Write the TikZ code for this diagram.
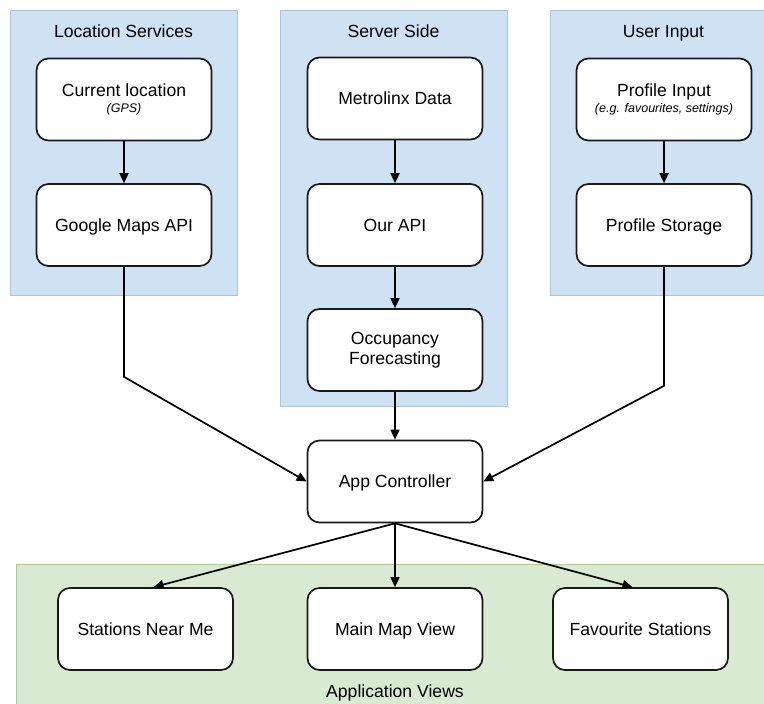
\documentclass[tikz,border=0pt]{standalone}
\usepackage{fontspec}
\setmainfont{Liberation Sans}
\usetikzlibrary{arrows.meta}
\definecolor{panelblue}{HTML}{CFE2F3}
\definecolor{panelblueline}{HTML}{A9C4DE}
\definecolor{panelgreen}{HTML}{D9EAD3}
\definecolor{panelgreenline}{HTML}{A8CC98}
\newcommand{\subnote}[1]{{\fontsize{12.5}{14}\selectfont\itshape #1}}
\tikzset{
  box/.style={draw=black!90, line width=1.7pt, fill=white, rounded corners=12pt,
    minimum width=175pt, minimum height=82pt, align=center, inner sep=2pt},
  oneline/.style={text height=14.6pt, text depth=2pt},
  panel/.style={line width=0.8pt},
  arr/.style={line width=1.7pt, -{Triangle[length=10pt,width=9pt]}},
}
\begin{document}
\begin{tikzpicture}[x=1pt,y=-1pt,font=\fontsize{17.6}{21}\selectfont]
  \useasboundingbox (0,0) rectangle (764,704);
  \clip (0,0) rectangle (764,704);

  % groups
  \draw [panel,draw=panelblueline,fill=panelblue] (10,10) rectangle (237,295);
  \draw [panel,draw=panelblueline,fill=panelblue] (280,10) rectangle (507,406);
  \draw [panel,draw=panelblueline,fill=panelblue] (550,10) rectangle (790,295);
  \draw [panel,draw=panelgreenline,fill=panelgreen] (16,564) rectangle (790,720);
  \node [oneline] (tloc) at (123.5,31) {Location Services};
  \node [oneline] (tsrv) at (393.5,31) {Server Side};
  \node [oneline] (tusr) at (663.5,31) {User Input};
  \node [oneline] (tview) at (395,691) {Application Views};

  % boxes
  \node [box] (loc) at (124,99.5) {Current location\\[-5pt]\subnote{(GPS)}};
  \node [box,oneline] (gmaps) at (124,225) {Google Maps API};
  \node [box,oneline] (metro) at (395,98.5) {Metrolinx Data};
  \node [box,oneline] (api) at (395,225) {Our API};
  \node [box] (occ) at (395,350) {Occupancy\\[-1pt]Forecasting};
  \node [box] (prof) at (664,99.5) {Profile Input\\[-5pt]\subnote{(e.g. favourites, settings)}};
  \node [box,oneline] (store) at (664,225) {Profile Storage};
  \node [box,oneline] (ctrl) at (395,481.5) {App Controller};
  \node [box,oneline] (near) at (145.5,629) {Stations Near Me};
  \node [box,oneline] (mainmap) at (395,629) {Main Map View};
  \node [box,oneline] (fav) at (640.5,629) {Favourite Stations};

  % links
  \draw [arr] (loc) -- (gmaps);
  \draw [arr] (metro) -- (api);
  \draw [arr] (api) -- (occ);
  \draw [arr] (prof) -- (store);
  \draw [arr] (occ) -- (ctrl);
  \draw [arr] (gmaps.south) -- ++(0,110) -- (ctrl.west);
  \draw [arr] (store.south) -- ++(0,119) -- (ctrl.east);
  \draw [arr] (ctrl.south) -- ([xshift=8pt]near.north);
  \draw [arr] (ctrl.south) -- (mainmap.north);
  \draw [arr] (ctrl.south) -- ([xshift=-8pt]fav.north);
\end{tikzpicture}
\end{document}
